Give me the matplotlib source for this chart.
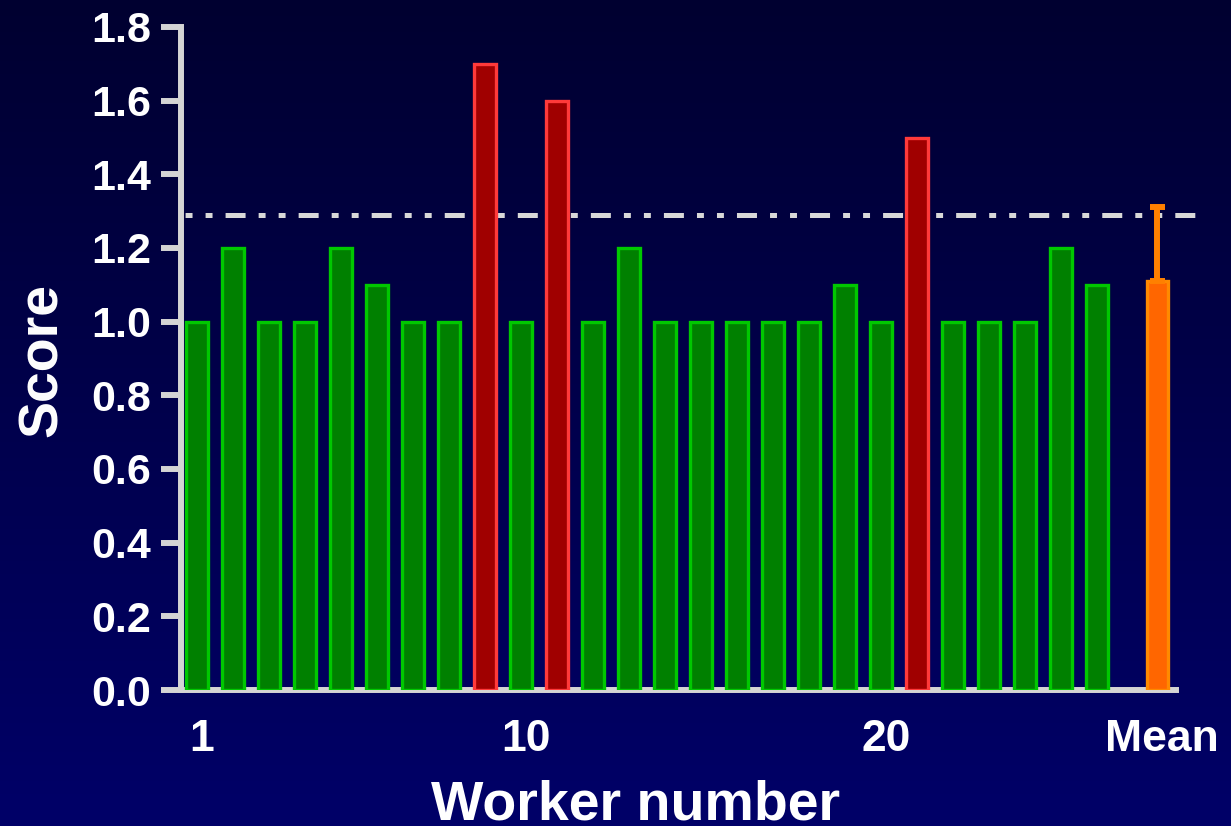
import matplotlib.pyplot as plt
import matplotlib.transforms as mtransforms
import numpy as np

plt.rcParams['font.family'] = ['Liberation Sans', 'DejaVu Sans']
plt.rcParams['font.weight'] = 'bold'
plt.rcParams['lines.scale_dashes'] = False

# data
workers = np.arange(1, 27)
scores = [1.0, 1.2, 1.0, 1.0, 1.2, 1.1, 1.0, 1.0, 1.7, 1.0, 1.6, 1.0, 1.2,
          1.0, 1.0, 1.0, 1.0, 1.0, 1.1, 1.0, 1.5, 1.0, 1.0, 1.0, 1.2, 1.1]
high_workers = [9, 11, 21]
mean_score = 1.11
mean_sd = 0.20
threshold = 1.29
xtick_labels = ['1', '10', '20', 'Mean']
ytick_values = [0.0, 0.2, 0.4, 0.6, 0.8, 1.0, 1.2, 1.4, 1.6, 1.8]

mean_x = 27.67

fig = plt.figure(figsize=(12.31, 8.26), dpi=100)

# background gradient
bg = fig.add_axes([0, 0, 1, 1], zorder=-10)
grad = np.linspace(0, 1, 256).reshape(-1, 1)
top = np.array([0, 0, 0x30]) / 255
bot = np.array([0, 0, 0x68]) / 255
img = top + grad[..., None] * (bot - top)
img = img.reshape(256, 1, 3)
bg.imshow(img, aspect='auto', extent=[0, 1, 0, 1], origin='upper')
bg.axis('off')

ax = fig.add_axes([181 / 1231, 1 - 690 / 826, (1198 - 181) / 1231, (690 - 27) / 826])
ax.set_facecolor('none')

faces = ['#a00000' if w in high_workers else '#008000' for w in workers]
edges = ['#ff3a3a' if w in high_workers else '#00c800' for w in workers]
ax.bar(workers, scores, width=0.6, color=faces, edgecolor=edges, linewidth=2.4, zorder=3)

# mean bar with upward error
ax.bar([mean_x], [mean_score], width=0.6, color='#ff6600', edgecolor='#ff8a00',
       linewidth=2.4, zorder=3)
ax.errorbar([mean_x], [mean_score], yerr=[[0], [mean_sd]], fmt='none',
            ecolor='#ff8000', elinewidth=4.3, capsize=5.4, capthick=4.3, zorder=4)

# threshold line (dash-dot-dot)
ax.plot([0.611, 28.72], [threshold, threshold], color='#d8d8d8', lw=3.6,
        dash_capstyle='butt', zorder=2, clip_on=False,
        linestyle=(22.3, (14.4, 9.4, 5.0, 9.4, 5.0, 9.4)))

ax.set_xlim(0.5556, 28.8)
ax.set_ylim(0, 1.8)

for s in ['top', 'right']:
    ax.spines[s].set_visible(False)
for s in ['left', 'bottom']:
    ax.spines[s].set_color('#d4d4d4')
    ax.spines[s].set_linewidth(4.3)
ax.spines['bottom'].set_bounds(0.5556, 28.19)
ax.spines['left'].set_bounds(0, 1.8)

ax.set_yticks(ytick_values)
ax.set_yticklabels([f'{v:.1f}' for v in ytick_values])
ax.tick_params(axis='y', length=14.4, width=4.3, color='#d4d4d4', labelsize=31,
               labelcolor='white', pad=7)
ax.set_xticks([1, 10, 20, mean_x])
ax.set_xticklabels(xtick_labels)
ax.tick_params(axis='x', length=0, labelsize=32, labelcolor='white', pad=21)
offset = mtransforms.ScaledTranslation(5 / 100, 0, fig.dpi_scale_trans)
for lab in ax.get_xticklabels():
    lab.set_transform(lab.get_transform() + offset)

fig.text(636 / 1231, 1 - 820 / 826, 'Worker number', ha='center', va='baseline',
         fontsize=40, color='white', fontweight='bold')
fig.text(57 / 1231, 1 - 360 / 826, 'Score', ha='center', va='baseline', rotation=90,
         rotation_mode='anchor', fontsize=40, color='white', fontweight='bold')

fig.savefig('out.png', dpi=100)
